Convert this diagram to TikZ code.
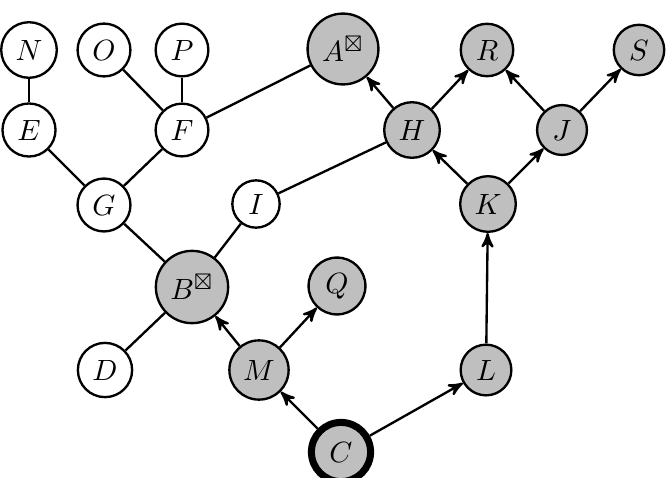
\documentclass[tikz,border=0pt]{standalone}
\usepackage{amsmath,amssymb}
\usepackage{tikz}
\usetikzlibrary{shapes,arrows}

\begin{document}
\begin{tikzpicture}[
    x=0.012cm, y=-0.012cm,
    var/.style={draw, thick, circle, inner sep=2.7pt},
    obs/.style={var, fill=gray!50},
    dir/.style={->, thick, >=stealth'},
    und/.style={thick}
]
    \useasboundingbox (0,0) rectangle (670,477);

    % Row 1
    \node[var] (N) at (29,50) {$N$};
    \node[var] (O) at (104,50) {$O$};
    \node[var] (P) at (182,50) {$P$};
    \node[obs] (A) at (343,49) {$A^{\boxtimes}$};
    \node[obs] (R) at (487,50) {$R$};
    \node[obs] (S) at (639,50) {$S$};

    % Row 2
    \node[var] (E) at (29,130) {$E$};
    \node[var] (F) at (182,130) {$F$};
    \node[obs] (H) at (412,130) {$H$};
    \node[obs] (J) at (562,130) {$J$};

    % Row 3
    \node[var] (G) at (104,205) {$G$};
    \node[var] (I) at (256,204) {$I$};
    \node[obs] (K) at (488,204) {$K$};

    % Row 4
    \node[obs] (B) at (192,287) {$B^{\boxtimes}$};
    \node[obs] (Q) at (337,286) {$Q$};

    % Row 5
    \node[var] (D) at (105,370) {$D$};
    \node[obs] (M) at (259,370) {$M$};
    \node[obs] (L) at (486,370) {$L$};

    % Row 6
    \node[obs, line width=2.4pt, minimum size=0.71cm] (C) at (341,452) {$C$};

    % Undirected edges
    \draw[und] (N) -- (E);
    \draw[und] (O) -- (F);
    \draw[und] (P) -- (F);
    \draw[und] (E) -- (G);
    \draw[und] (F) -- (G);
    \draw[und] (F) -- (A);
    \draw[und] (G) -- (B);
    \draw[und] (I) -- (B);
    \draw[und] (I) -- (H);
    \draw[und] (B) -- (D);

    % Directed edges
    \draw[dir] (H) -- (A);
    \draw[dir] (H) -- (R);
    \draw[dir] (K) -- (H);
    \draw[dir] (K) -- (J);
    \draw[dir] (J) -- (R);
    \draw[dir] (J) -- (S);
    \draw[dir] (L) -- (K);
    \draw[dir] (C) -- (L);
    \draw[dir] (C) -- (M);
    \draw[dir] (M) -- (B);
    \draw[dir] (M) -- (Q);
\end{tikzpicture}
\end{document}
